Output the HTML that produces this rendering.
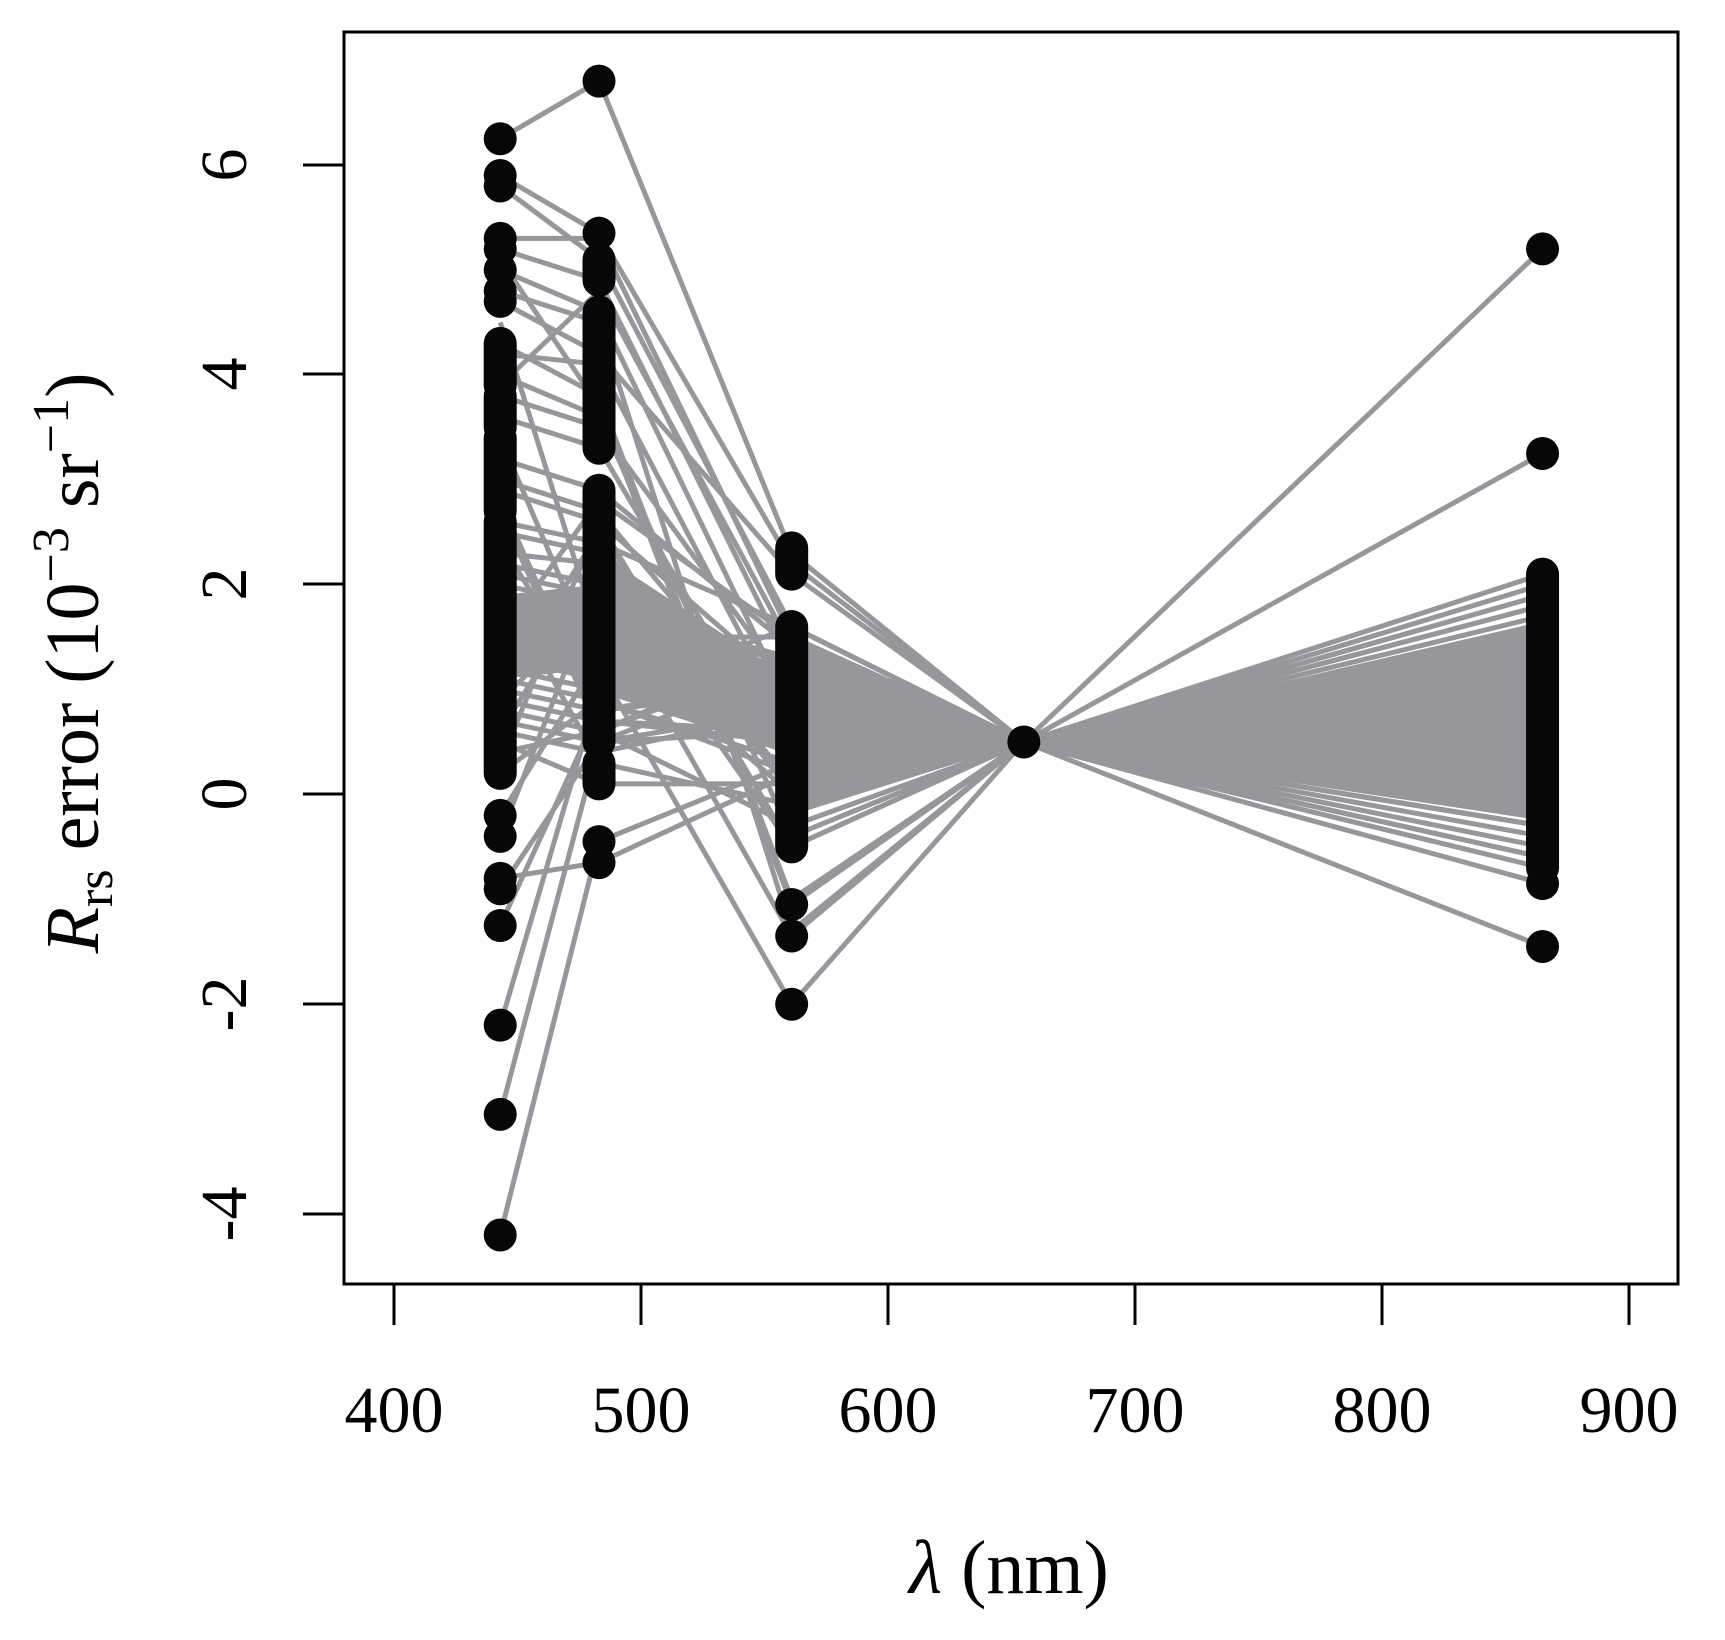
<!DOCTYPE html>
<html><head><meta charset="utf-8"><style>
html,body{margin:0;padding:0;background:#fff;}
svg{display:block;}
text{font-family:"Liberation Serif","DejaVu Serif",serif;fill:#000;}
</style></head><body>
<svg width="1725" height="1640" viewBox="0 0 1725 1640" xmlns="http://www.w3.org/2000/svg">
<rect x="0" y="0" width="1725" height="1640" fill="#fff"/>
<g transform="matrix(2.47,0,0,-104.9,-594,794.4)">
<g fill="#96979a" stroke="none">
<polygon points="561,1.5 655,0.5 561,-0.2"/>
<polygon points="655,0.5 865,1.65 865,-0.25"/>
<polygon points="483,2.3 561,1.1 561,0.4 483,1.0"/>
<polygon points="443,1.9 483,2.0 483,1.2 443,1.1"/>
</g>
<g fill="none" stroke="#96979a" stroke-width="5" stroke-linejoin="round">
<polyline vector-effect="non-scaling-stroke" points="443,6.25 483,6.8 561,2.3 655,0.5 865,1.0"/>
<polyline vector-effect="non-scaling-stroke" points="443,5.9 483,5.35 561,2.2 655,0.5 865,0.3"/>
<polyline vector-effect="non-scaling-stroke" points="443,5.8 483,5.1 561,1.6 655,0.5 865,-0.3"/>
<polyline vector-effect="non-scaling-stroke" points="443,5.3 483,5.3 561,1.5 655,0.5 865,1.9"/>
<polyline vector-effect="non-scaling-stroke" points="443,5.2 483,4.9 561,1.2 655,0.5 865,5.2"/>
<polyline vector-effect="non-scaling-stroke" points="443,5.0 483,4.6 561,0.8 655,0.5 865,3.25"/>
<polyline vector-effect="non-scaling-stroke" points="443,4.8 483,4.5 561,-1.3 655,0.5 865,2.1"/>
<polyline vector-effect="non-scaling-stroke" points="443,4.7 483,4.2 561,2.1 655,0.5 865,1.5"/>
<polyline vector-effect="non-scaling-stroke" points="443,4.3 483,3.8 561,-1.0 655,0.5 865,0.0"/>
<polyline vector-effect="non-scaling-stroke" points="443,4.2 483,4.1 561,0.6 655,0.5 865,1.2"/>
<polyline vector-effect="non-scaling-stroke" points="443,4.0 483,3.6 561,-0.4 655,0.5 865,-1.45"/>
<polyline vector-effect="non-scaling-stroke" points="443,3.8 483,3.5 561,1.0 655,0.5 865,0.6"/>
<polyline vector-effect="non-scaling-stroke" points="443,3.6 483,3.3 561,0.2 655,0.5 865,-0.85"/>
<polyline vector-effect="non-scaling-stroke" points="443,3.2 483,2.9 561,1.4 655,0.5 865,1.8"/>
<polyline vector-effect="non-scaling-stroke" points="443,3.0 483,2.7 561,0.5 655,0.5 865,-0.6"/>
<polyline vector-effect="non-scaling-stroke" points="443,2.9 483,2.6 561,-0.5 655,0.5 865,0.4"/>
<polyline vector-effect="non-scaling-stroke" points="443,2.6 483,2.4 561,1.6 655,0.5 865,1.0"/>
<polyline vector-effect="non-scaling-stroke" points="443,2.5 483,2.3 561,0.9 655,0.5 865,-0.2"/>
<polyline vector-effect="non-scaling-stroke" points="443,2.3 483,2.2 561,0.3 655,0.5 865,1.6"/>
<polyline vector-effect="non-scaling-stroke" points="443,2.2 483,2.0 561,1.2 655,0.5 865,0.2"/>
<polyline vector-effect="non-scaling-stroke" points="443,2.1 483,1.9 561,-1.35 655,0.5 865,0.8"/>
<polyline vector-effect="non-scaling-stroke" points="443,2.0 483,1.8 561,0.7 655,0.5 865,-0.4"/>
<polyline vector-effect="non-scaling-stroke" points="443,1.9 483,1.7 561,1.1 655,0.5 865,1.3"/>
<polyline vector-effect="non-scaling-stroke" points="443,1.8 483,1.6 561,0.0 655,0.5 865,0.5"/>
<polyline vector-effect="non-scaling-stroke" points="443,1.7 483,1.5 561,1.5 655,0.5 865,1.7"/>
<polyline vector-effect="non-scaling-stroke" points="443,1.6 483,1.4 561,0.4 655,0.5 865,-0.1"/>
<polyline vector-effect="non-scaling-stroke" points="443,1.5 483,1.3 561,0.9 655,0.5 865,0.9"/>
<polyline vector-effect="non-scaling-stroke" points="443,1.4 483,1.2 561,-2.0 655,0.5 865,0.1"/>
<polyline vector-effect="non-scaling-stroke" points="443,1.3 483,1.1 561,1.3 655,0.5 865,1.4"/>
<polyline vector-effect="non-scaling-stroke" points="443,1.2 483,1.0 561,0.6 655,0.5 865,-0.3"/>
<polyline vector-effect="non-scaling-stroke" points="443,1.1 483,0.9 561,0.2 655,0.5 865,0.7"/>
<polyline vector-effect="non-scaling-stroke" points="443,1.0 483,0.8 561,1.0 655,0.5 865,1.1"/>
<polyline vector-effect="non-scaling-stroke" points="443,0.9 483,0.7 561,0.5 655,0.5 865,0.3"/>
<polyline vector-effect="non-scaling-stroke" points="443,0.8 483,0.6 561,-0.3 655,0.5 865,1.5"/>
<polyline vector-effect="non-scaling-stroke" points="443,0.7 483,0.5 561,1.2 655,0.5 865,-0.5"/>
<polyline vector-effect="non-scaling-stroke" points="443,0.6 483,0.4 561,0.8 655,0.5 865,0.6"/>
<polyline vector-effect="non-scaling-stroke" points="443,0.5 483,0.1 561,0.1 655,0.5 865,1.2"/>
<polyline vector-effect="non-scaling-stroke" points="443,0.4 483,0.6 561,1.4 655,0.5 865,0.0"/>
<polyline vector-effect="non-scaling-stroke" points="443,0.2 483,0.9 561,0.3 655,0.5 865,0.9"/>
<polyline vector-effect="non-scaling-stroke" points="443,-0.2 483,1.3 561,0.7 655,0.5 865,-0.7"/>
<polyline vector-effect="non-scaling-stroke" points="443,-0.4 483,2.0 561,0.9 655,0.5 865,0.4"/>
<polyline vector-effect="non-scaling-stroke" points="443,-0.8 483,-0.65 561,0.2 655,0.5 865,1.9"/>
<polyline vector-effect="non-scaling-stroke" points="443,-0.9 483,0.5 561,0.6 655,0.5 865,0.2"/>
<polyline vector-effect="non-scaling-stroke" points="443,-1.25 483,0.8 561,1.1 655,0.5 865,1.0"/>
<polyline vector-effect="non-scaling-stroke" points="443,-2.2 483,1.0 561,0.4 655,0.5 865,0.6"/>
<polyline vector-effect="non-scaling-stroke" points="443,-3.05 483,0.5 561,0.8 655,0.5 865,-0.2"/>
<polyline vector-effect="non-scaling-stroke" points="443,-4.2 483,-0.45 561,0.3 655,0.5 865,0.8"/>
<polyline vector-effect="non-scaling-stroke" points="443,2.4 483,0.9 561,1.6 655,0.5 865,1.6"/>
<polyline vector-effect="non-scaling-stroke" points="443,1.0 483,2.5 561,0.0 655,0.5 865,0.1"/>
<polyline vector-effect="non-scaling-stroke" points="443,3.4 483,1.2 561,0.4 655,0.5 865,1.2"/>
<polyline vector-effect="non-scaling-stroke" points="443,1.5 483,2.8 561,1.5 655,0.5 865,-0.3"/>
<polyline vector-effect="non-scaling-stroke" points="443,0.6 483,2.1 561,-0.5 655,0.5 865,0.5"/>
<polyline vector-effect="non-scaling-stroke" points="443,4.5 483,1.5 561,0.9 655,0.5 865,1.8"/>
<polyline vector-effect="non-scaling-stroke" points="443,2.7 483,0.6 561,1.3 655,0.5 865,0.3"/>
<polyline vector-effect="non-scaling-stroke" points="443,5.1 483,3.7 561,-1.05 655,0.5 865,2.0"/>
<polyline vector-effect="non-scaling-stroke" points="443,3.9 483,4.8 561,1.4 655,0.5 865,1.4"/>
<polyline vector-effect="non-scaling-stroke" points="443,2.0 483,0.3 561,-0.1 655,0.5 865,-0.6"/>
<polyline vector-effect="non-scaling-stroke" points="443,1.2 483,2.4 561,0.1 655,0.5 865,1.3"/>
<polyline vector-effect="non-scaling-stroke" points="443,0.3 483,2.6 561,1.0 655,0.5 865,0.7"/>
<polyline vector-effect="non-scaling-stroke" points="443,2.8 483,0.7 561,0.6 655,0.5 865,-0.1"/>
<polyline vector-effect="non-scaling-stroke" points="443,0.9 483,1.8 561,1.3 655,0.5 865,1.1"/>
</g>
<path vector-effect="non-scaling-stroke" fill="none" stroke="#060807" stroke-width="33" stroke-linecap="round"
d="M443,6.25v0M443,5.9v0M443,5.8v0M443,5.3v0M443,5.2v0M443,5.0v0M443,4.8v0M443,4.7v0
M443,4.3v-0.4M443,3.8v-0.3M443,3.4v-0.7M443,2.6v-2.4M443,-0.2v0M443,-0.4v0M443,-0.8v0M443,-0.9v0M443,-1.25v0M443,-2.2v0M443,-3.05v0M443,-4.2v0
M483,6.8v0M483,5.35v0M483,5.1v-0.2M483,4.6v-0.4M483,4.2v-0.9M483,2.9v-2.4M483,0.3v-0.2M483,-0.45v0M483,-0.65v0
M561,2.35v-0.25M561,1.6v-2.1M561,-1.05v0M561,-1.35v0M561,-2.0v0
M655,0.5v0
M865,5.2v0M865,3.25v0M865,2.1v-2.8M865,-0.85v0M865,-1.45v0"/>
</g>
<g stroke="#000" stroke-width="3" fill="none">
<rect x="344" y="32" width="1334" height="1252"/>
<path d="M303,165H344M303,374H344M303,584H344M303,794H344M303,1004H344M303,1214H344"/>
<path d="M394,1284V1325M641,1284V1325M888,1284V1325M1135,1284V1325M1382,1284V1325M1629,1284V1325"/>
</g>
<g font-size="66" text-anchor="middle">
<text x="394" y="1432">400</text>
<text x="641" y="1432">500</text>
<text x="888" y="1432">600</text>
<text x="1135" y="1432">700</text>
<text x="1382" y="1432">800</text>
<text x="1629" y="1432">900</text>
<text transform="translate(246,165) rotate(-90)">6</text>
<text transform="translate(246,374) rotate(-90)">4</text>
<text transform="translate(246,584) rotate(-90)">2</text>
<text transform="translate(246,794) rotate(-90)">0</text>
<text transform="translate(246,1004) rotate(-90)">-2</text>
<text transform="translate(246,1214) rotate(-90)">-4</text>
</g>
<text x="1009" y="1593" font-size="76" text-anchor="middle"><tspan font-style="italic">λ</tspan> (nm)</text>
<text transform="translate(98,663) rotate(-90)" font-size="76" text-anchor="middle"><tspan font-style="italic">R</tspan><tspan font-size="52" dy="14">rs</tspan><tspan dy="-14"> error (10</tspan><tspan font-size="52" dy="-30">−3</tspan><tspan dy="30"> sr</tspan><tspan font-size="52" dy="-30">−1</tspan><tspan dy="30">)</tspan></text>
</svg>
</body></html>
